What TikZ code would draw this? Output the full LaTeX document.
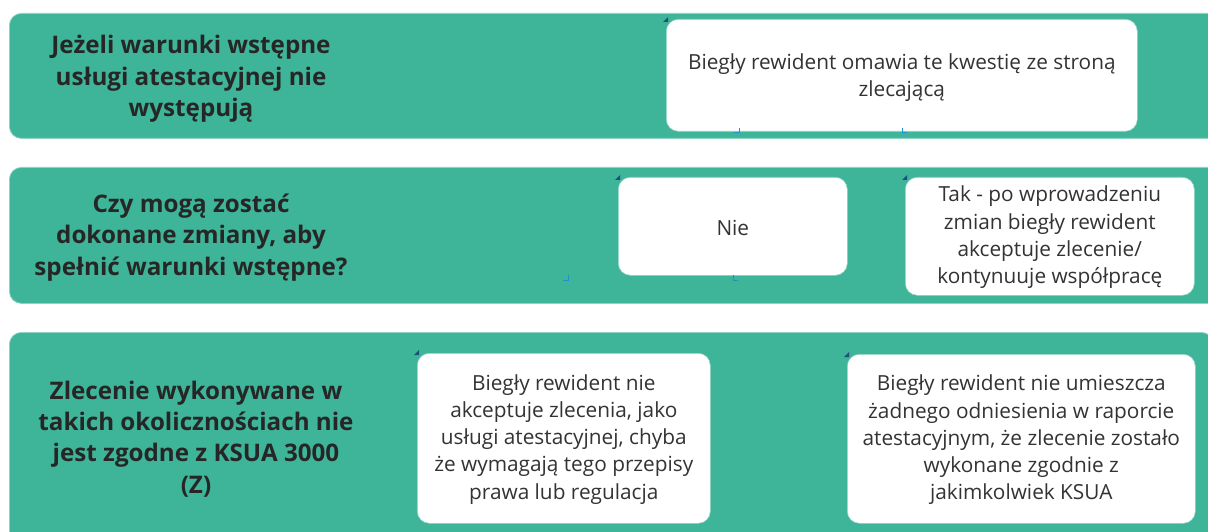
\documentclass[tikz,border=0pt]{standalone}
\usepackage{fontspec}
\setmainfont{Open Sans}
\definecolor{bandgreen}{HTML}{3EB498}
\definecolor{bandedge}{HTML}{8FD3C2}
\definecolor{txtdark}{HTML}{262626}
\definecolor{txtreg}{HTML}{333333}
\definecolor{markblue}{HTML}{1F4E79}
\definecolor{markcyan}{HTML}{1E90D6}
\tikzset{
  band/.style={draw=bandedge, line width=0.8pt, fill=bandgreen, rounded corners=12pt, anchor=north west, inner sep=0pt},
  lefttext/.style={align=center, text=txtdark, font=\bfseries\fontsize{24.2}{31.3}\selectfont, inner sep=0pt},
  whitebox/.style={draw=bandedge, line width=0.6pt, fill=white, rounded corners=12pt, anchor=north west, inner sep=0pt},
  boxtext/.style={align=center, text=txtreg, font=\fontsize{20.8}{27.2}\selectfont, inner sep=0pt},
  tri/.style={fill=markblue},
  tick/.style={draw=markcyan, line width=1pt}
}
\begin{document}
\begin{tikzpicture}[x=1pt,y=-1pt]
\useasboundingbox (0,0) rectangle (1208,532);
\clip (0,0) rectangle (1208,532);
% bands
\node[band, minimum width=1230pt, minimum height=125pt] (b1) at (9,13) {};
\node[band, minimum width=1230pt, minimum height=136pt] (b2) at (9,167) {};
\node[band, minimum width=1204pt, minimum height=215pt] (b3) at (9,332) {};
% left labels
\node[lefttext] (l1) at (191,79) {Jeżeli warunki wstępne\\usługi atestacyjnej nie\\występują};
\node[lefttext] (l2) at (191,237.5) {Czy mogą zostać\\dokonane zmiany, aby\\spełnić warunki wstępne?};
\node[lefttext] (l3) at (196,439) {Zlecenie wykonywane w\\takich okolicznościach nie\\jest zgodne z KSUA 3000\\(Z)};
% white boxes
\node[whitebox, minimum width=471pt, minimum height=112pt] (wa) at (666,19) {};
\node[whitebox, minimum width=229pt, minimum height=98pt] (wb) at (618,177) {};
\node[whitebox, minimum width=289pt, minimum height=118pt] (wc) at (905,177) {};
\node[whitebox, minimum width=293pt, minimum height=170pt] (wd) at (417,353) {};
\node[whitebox, minimum width=348pt, minimum height=169pt] (we) at (847,354) {};
% box texts
\node[boxtext] (ta) at ([yshift=-2pt]wa.center) {Biegły rewident omawia te kwestię ze stroną\\zlecającą};
\node[boxtext] (tb) at ([yshift=-2pt]wb.center) {Nie};
\node[boxtext] (tc) at ([yshift=-1pt]wc.center) {Tak - po wprowadzeniu\\zmian biegły rewident\\akceptuje zlecenie/\\kontynuuje współpracę};
\node[boxtext] (td) at ([yshift=-1pt]wd.center) {Biegły rewident nie\\akceptuje zlecenia, jako\\usługi atestacyjnej, chyba\\że wymagają tego przepisy\\prawa lub regulacja};
\node[boxtext] (te) at ([yshift=-1pt]we.center) {Biegły rewident nie umieszcza\\żadnego odniesienia w raporcie\\atestacyjnym, że zlecenie zostało\\wykonane zgodnie z\\jakimkolwiek KSUA};
% small markers
\foreach \px/\py in {663/17, 615/175, 902/175, 414/350, 844/352}{
  \fill[tri] (\px,\py+5) -- (\px+5,\py+5) -- (\px+5,\py) -- cycle;
}
\draw[tick] (739,128) -- (739,133) -- (734,133);
\draw[tick] (902,128) -- (902,133) -- (907,133);
\draw[tick] (568,275) -- (568,280) -- (563,280);
\draw[tick] (733,275) -- (733,280) -- (738,280);
\end{tikzpicture}
\end{document}
